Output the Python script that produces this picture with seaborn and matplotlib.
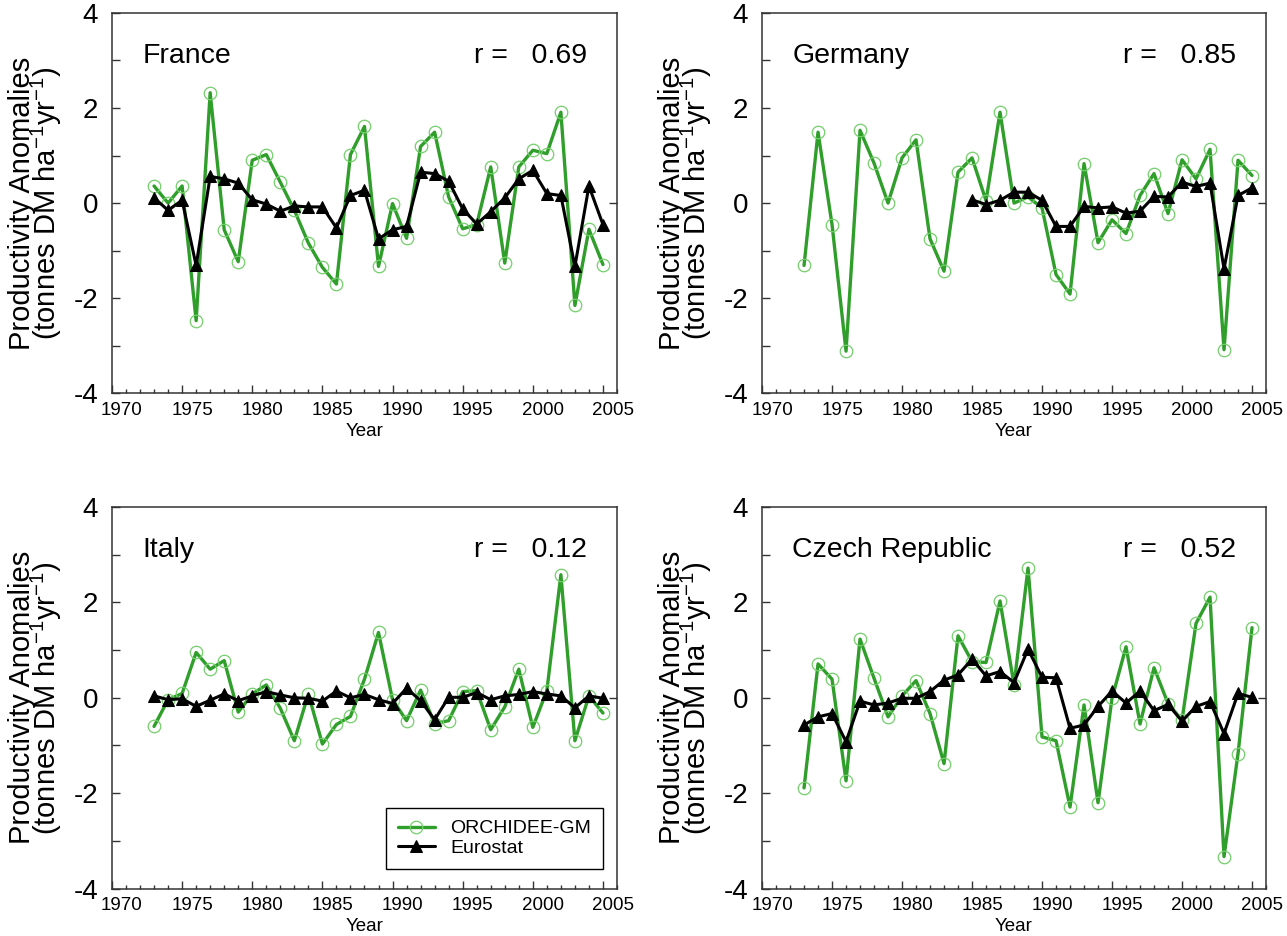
"""Recreate the four-panel productivity anomaly comparison chart."""
#####################################
# Imports At the Top
#####################################

import matplotlib

matplotlib.use("Agg")
import matplotlib.pyplot as plt
import matplotlib.transforms as mtransforms
from matplotlib.ticker import MultipleLocator
import numpy as np
import seaborn as sns

#####################################
# Data
#####################################

years = np.arange(1973, 2006)
eurostat_years_de = np.arange(1985, 2006)

countries = ["France", "Germany", "Italy", "Czech Republic"]
r_values = ["0.69", "0.85", "0.12", "0.52"]

france_orchidee = [0.36, 0.0, 0.36, -2.47, 2.32, -0.56, -1.23, 0.90, 1.02, 0.44,
                   -0.15, -0.84, -1.35, -1.70, 1.02, 1.61, -1.33, -0.01, -0.74, 1.19,
                   1.49, 0.13, -0.54, -0.45, 0.76, -1.26, 0.76, 1.11, 1.04, 1.91,
                   -2.15, -0.55, -1.29]
france_eurostat = [0.11, -0.15, 0.06, -1.31, 0.56, 0.51, 0.42, 0.07, -0.02, -0.17,
                   -0.06, -0.08, -0.08, -0.52, 0.16, 0.27, -0.75, -0.56, -0.49, 0.65,
                   0.62, 0.46, -0.12, -0.44, -0.18, 0.11, 0.51, 0.69, 0.20, 0.16,
                   -1.33, 0.36, -0.45]

germany_orchidee = [-1.31, 1.49, -0.45, -3.11, 1.53, 0.84, 0.0, 0.95, 1.33, -0.75,
                    -1.43, 0.65, 0.95, 0.05, 1.91, 0.0, 0.13, -0.10, -1.50, -1.91,
                    0.83, -0.83, -0.35, -0.64, 0.16, 0.62, -0.22, 0.91, 0.51, 1.13,
                    -3.08, 0.90, 0.58]
germany_eurostat = [0.07, -0.03, 0.06, 0.23, 0.23, 0.06, -0.49, -0.49, -0.07, -0.10,
                    -0.08, -0.21, -0.17, 0.14, 0.13, 0.44, 0.35, 0.42, -1.38, 0.16,
                    0.32]

italy_orchidee = [-0.60, -0.04, 0.09, 0.95, 0.60, 0.78, -0.30, 0.08, 0.27, -0.22,
                  -0.90, 0.08, -0.97, -0.56, -0.39, 0.39, 1.37, -0.04, -0.48, 0.16,
                  -0.54, -0.48, 0.13, 0.15, -0.67, -0.19, 0.60, -0.62, 0.15, 2.58,
                  -0.90, 0.04, -0.32]
italy_eurostat = [0.04, -0.04, -0.02, -0.18, -0.05, 0.08, -0.06, 0.04, 0.13, 0.06,
                  0.0, -0.01, -0.07, 0.14, 0.0, 0.07, -0.04, -0.12, 0.20, -0.06,
                  -0.46, 0.01, 0.01, 0.11, -0.04, 0.04, 0.07, 0.13, 0.08, 0.04,
                  -0.21, 0.04, -0.01]

czech_orchidee = [-1.89, 0.71, 0.39, -1.74, 1.23, 0.41, -0.40, 0.04, 0.36, -0.33,
                  -1.38, 1.30, 0.76, 0.74, 2.03, 0.27, 2.72, -0.82, -0.90, -2.29,
                  -0.15, -2.20, -0.01, 1.07, -0.55, 0.63, -0.12, -0.47, 1.56, 2.11,
                  -3.33, -1.17, 1.47]
czech_eurostat = [-0.57, -0.40, -0.33, -0.92, -0.07, -0.15, -0.11, -0.01, -0.01, 0.13,
                  0.37, 0.48, 0.81, 0.46, 0.55, 0.32, 1.02, 0.43, 0.42, -0.64,
                  -0.57, -0.18, 0.14, -0.11, 0.14, -0.27, -0.14, -0.49, -0.18, -0.08,
                  -0.75, 0.09, 0.01]

orchidee_series = [france_orchidee, germany_orchidee, italy_orchidee, czech_orchidee]
eurostat_series = [france_eurostat, germany_eurostat, italy_eurostat, czech_eurostat]
eurostat_x = [years, eurostat_years_de, years, years]

#####################################
# Style
#####################################

GREEN = "#2f9e2a"
GREEN_EDGE = "#74cf6c"
SPINE = "#333333"

sns.set_style("ticks")
plt.rcParams["font.family"] = ["Liberation Sans", "DejaVu Sans"]
plt.rcParams["axes.unicode_minus"] = False
plt.rcParams["mathtext.fontset"] = "custom"
plt.rcParams["mathtext.rm"] = "Liberation Sans"
for key in ["text.color", "axes.labelcolor", "xtick.labelcolor", "ytick.labelcolor"]:
    plt.rcParams[key] = "black"


def draw_panel(ax, idx):
    """Draw one country panel."""
    sns.lineplot(x=years, y=orchidee_series[idx], ax=ax, color=GREEN,
                 linewidth=2.4, marker="o", markersize=9,
                 markerfacecolor="none", markeredgecolor=GREEN_EDGE,
                 markeredgewidth=0.9)
    sns.lineplot(x=eurostat_x[idx], y=eurostat_series[idx], ax=ax, color="black",
                 linewidth=2.2, marker="^", markersize=8,
                 markerfacecolor="black", markeredgecolor="black")

    ax.set_xlim(1970, 2006)
    ax.set_ylim(-4, 4)
    ax.set_xticks(np.arange(1970, 2006, 5))
    ax.xaxis.set_minor_locator(MultipleLocator(1))
    ax.set_yticks([-4, -2, 0, 2, 4])
    ax.yaxis.set_minor_locator(MultipleLocator(1))

    ax.tick_params(axis="x", which="major", direction="in", length=6, width=1,
                   labelsize=13.5, pad=6, color=SPINE, labelcolor="black")
    ax.tick_params(axis="x", which="minor", direction="in", length=3, width=1,
                   color=SPINE)
    ax.tick_params(axis="y", which="major", direction="in", length=6, width=1,
                   labelsize=20, pad=10, color=SPINE, labelcolor="black")
    ax.tick_params(axis="y", which="minor", direction="in", length=6, width=1,
                   color=SPINE)

    # IDL-style labels sit a little to the right of their ticks
    shift = mtransforms.ScaledTranslation(10 / 100, 0, ax.figure.dpi_scale_trans)
    for lab in ax.get_xticklabels():
        lab.set_transform(lab.get_transform() + shift)

    right = ax.secondary_yaxis("right")
    right.set_yticks([0])
    right.tick_params(direction="in", length=6, width=1, labelright=False,
                      color=SPINE)
    right.spines["right"].set_visible(False)

    for spine in ax.spines.values():
        spine.set_color(SPINE)
        spine.set_linewidth(1.1)
        spine.set_visible(True)

    ax.set_xlabel("Year", fontsize=13.5, labelpad=3, color="black")
    ax.set_ylabel("Productivity Anomalies\n(tonnes DM ha$^{-1}$yr$^{-1}$)",
                  fontsize=21, linespacing=0.72, labelpad=7, color="black")

    ax.text(0.06, 0.887, countries[idx], transform=ax.transAxes,
            fontsize=20.5, ha="left", va="center", color="black")
    ax.text(0.717, 0.887, "r =   " + r_values[idx], transform=ax.transAxes,
            fontsize=20.5, ha="left", va="center", color="black")


def main() -> None:
    """Build the figure and save it."""
    fig = plt.figure(figsize=(12.87, 9.36), dpi=100)
    boxes = [
        [0.0870, 0.5796, 0.3924, 0.4068],
        [0.5921, 0.5796, 0.3916, 0.4068],
        [0.0870, 0.0507, 0.3924, 0.4076],
        [0.5921, 0.0507, 0.3916, 0.4076],
    ]
    axes = [fig.add_axes(b) for b in boxes]
    for i, ax in enumerate(axes):
        draw_panel(ax, i)

    leg_ax = axes[2]
    leg = leg_ax.legend(handles=leg_ax.lines[:2],
                        labels=["ORCHIDEE-GM", "Eurostat"],
                        loc="lower right", bbox_to_anchor=(0.972, 0.052),
                        borderaxespad=0, fontsize=14, frameon=True,
                        fancybox=False, edgecolor="black", framealpha=1,
                        handlelength=1.9, handletextpad=0.8, labelspacing=0.1,
                        borderpad=0.6)
    leg.get_frame().set_linewidth(1.0)
    for txt in leg.get_texts():
        txt.set_color("black")

    fig.savefig("out.png", dpi=100)


if __name__ == "__main__":
    main()
